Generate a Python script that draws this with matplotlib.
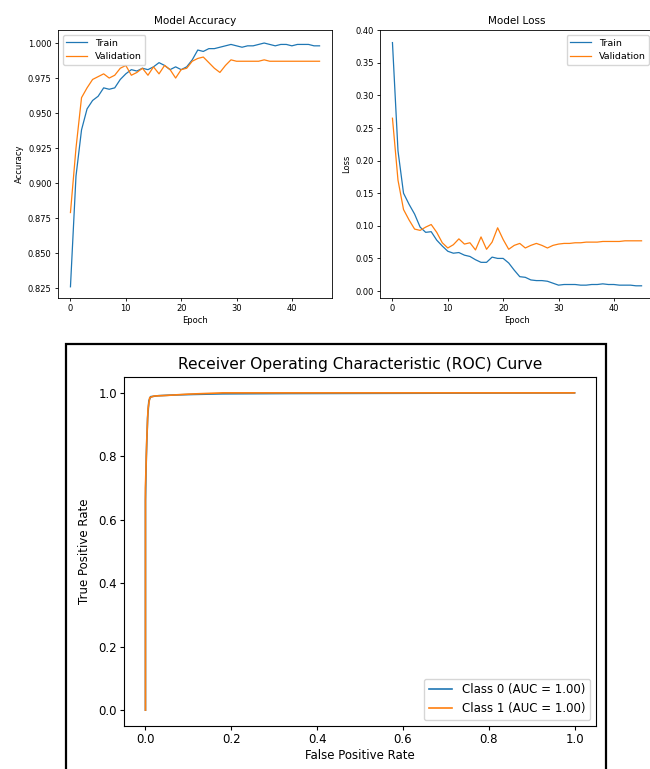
import matplotlib
matplotlib.use("Agg")
import matplotlib.pyplot as plt
from matplotlib.patches import Rectangle
import numpy as np

# ---------------- data ----------------
epochs = list(range(46))

train_acc = [0.826, 0.905, 0.938, 0.953, 0.959, 0.962, 0.968, 0.967, 0.968, 0.974,
             0.978, 0.981, 0.980, 0.982, 0.981, 0.983, 0.986, 0.984, 0.981, 0.983,
             0.981, 0.983, 0.988, 0.995, 0.994, 0.996, 0.996, 0.997, 0.998, 0.999,
             0.998, 0.997, 0.998, 0.998, 0.999, 1.000, 0.999, 0.998, 0.999, 0.999,
             0.998, 0.999, 0.999, 0.999, 0.998, 0.998]
val_acc = [0.879, 0.925, 0.961, 0.968, 0.974, 0.976, 0.978, 0.975, 0.977, 0.982,
           0.984, 0.977, 0.979, 0.982, 0.977, 0.983, 0.978, 0.984, 0.981, 0.975,
           0.981, 0.982, 0.987, 0.989, 0.990, 0.986, 0.982, 0.979, 0.984, 0.988,
           0.987, 0.987, 0.987, 0.987, 0.987, 0.988, 0.987, 0.987, 0.987, 0.987,
           0.987, 0.987, 0.987, 0.987, 0.987, 0.987]

train_loss = [0.381, 0.215, 0.150, 0.133, 0.118, 0.098, 0.090, 0.091, 0.078, 0.069,
              0.061, 0.058, 0.059, 0.055, 0.053, 0.048, 0.044, 0.044, 0.052, 0.050,
              0.050, 0.043, 0.032, 0.022, 0.021, 0.017, 0.016, 0.016, 0.015, 0.012,
              0.009, 0.010, 0.010, 0.010, 0.009, 0.009, 0.010, 0.010, 0.011, 0.010,
              0.010, 0.009, 0.009, 0.009, 0.008, 0.008]
val_loss = [0.265, 0.170, 0.125, 0.109, 0.095, 0.093, 0.098, 0.102, 0.090, 0.074,
            0.066, 0.071, 0.080, 0.072, 0.074, 0.063, 0.083, 0.064, 0.075, 0.097,
            0.079, 0.064, 0.070, 0.073, 0.066, 0.070, 0.073, 0.070, 0.066, 0.070,
            0.072, 0.073, 0.073, 0.074, 0.074, 0.075, 0.075, 0.075, 0.076, 0.076,
            0.076, 0.076, 0.077, 0.077, 0.077, 0.077]

fpr_class0 = [0.0, 0.0, 0.002, 0.005, 0.008, 0.012, 0.03, 0.06, 0.11, 0.18, 0.33, 1.0]
tpr_class0 = [0.0, 0.66, 0.80, 0.92, 0.975, 0.988, 0.991, 0.993, 0.995, 0.997, 0.998, 1.0]
fpr_class1 = [0.0, 0.0, 0.003, 0.006, 0.010, 0.02, 0.05, 0.10, 0.18, 0.33, 1.0]
tpr_class1 = [0.0, 0.70, 0.85, 0.95, 0.985, 0.990, 0.992, 0.996, 1.0, 1.0, 1.0]

roc_labels = ["Class 0 (AUC = 1.00)", "Class 1 (AUC = 1.00)"]

# ---------------- figure ----------------
W, H = 650, 769
fig = plt.figure(figsize=(W / 100, H / 100), dpi=100)

def box(l, t, r, b):
    return [l / W, (H - b) / H, (r - l) / W, (b - t) / H]

small = 6.0
leg_small = 6.8
lw_small = 0.9

ax1 = fig.add_axes(box(58, 30, 332, 298))
ax1.plot(epochs, train_acc, color="C0", lw=lw_small, label="Train")
ax1.plot(epochs, val_acc, color="C1", lw=lw_small, label="Validation")
ax1.set_ylim(0.818, 1.0093)
ax1.set_title("Model Accuracy", fontsize=7.5, pad=4)
ax1.set_xlabel("Epoch", fontsize=small, labelpad=2)
ax1.set_ylabel("Accuracy", fontsize=small, labelpad=3)
ax1.legend(loc="upper left", fontsize=leg_small, handlelength=2.2)
ax1.yaxis.set_major_formatter(matplotlib.ticker.FormatStrFormatter("%.3f"))

ax2 = fig.add_axes(box(380, 30, 654, 298))
ax2.plot(epochs, train_loss, color="C0", lw=lw_small, label="Train")
ax2.plot(epochs, val_loss, color="C1", lw=lw_small, label="Validation")
ax2.set_ylim(-0.0107, 0.4003)
ax2.set_title("Model Loss", fontsize=7.5, pad=4)
ax2.set_xlabel("Epoch", fontsize=small, labelpad=2)
ax2.set_ylabel("Loss", fontsize=small, labelpad=3)
ax2.legend(loc="upper right", fontsize=leg_small, handlelength=2.2)

for ax in (ax1, ax2):
    ax.tick_params(labelsize=small, length=2.5, width=0.6, pad=2)
    for s in ax.spines.values():
        s.set_linewidth(0.6)

# ROC
ax3 = fig.add_axes(box(124, 377, 596, 726))
ax3.plot(fpr_class0, tpr_class0, color="C0", lw=1.2, label=roc_labels[0])
ax3.plot(fpr_class1, tpr_class1, color="C1", lw=1.2, label=roc_labels[1])
ax3.set_xlim(-0.05, 1.05)
ax3.set_ylim(-0.05, 1.05)
ax3.set_title("Receiver Operating Characteristic (ROC) Curve", fontsize=11.2, pad=6)
ax3.set_xlabel("False Positive Rate", fontsize=8.5, labelpad=2)
ax3.set_ylabel("True Positive Rate", fontsize=8.5, labelpad=5)
ax3.tick_params(labelsize=8.5, length=3, width=0.8, pad=2)
ax3.legend(loc="lower right", fontsize=8.5)

fig.patches.append(Rectangle((66 / W, -0.02), 540 / W, (H - 344) / H + 0.02,
                             transform=fig.transFigure, fill=False,
                             edgecolor="black", lw=1.6, zorder=10))

fig.savefig("out.png", dpi=100)
